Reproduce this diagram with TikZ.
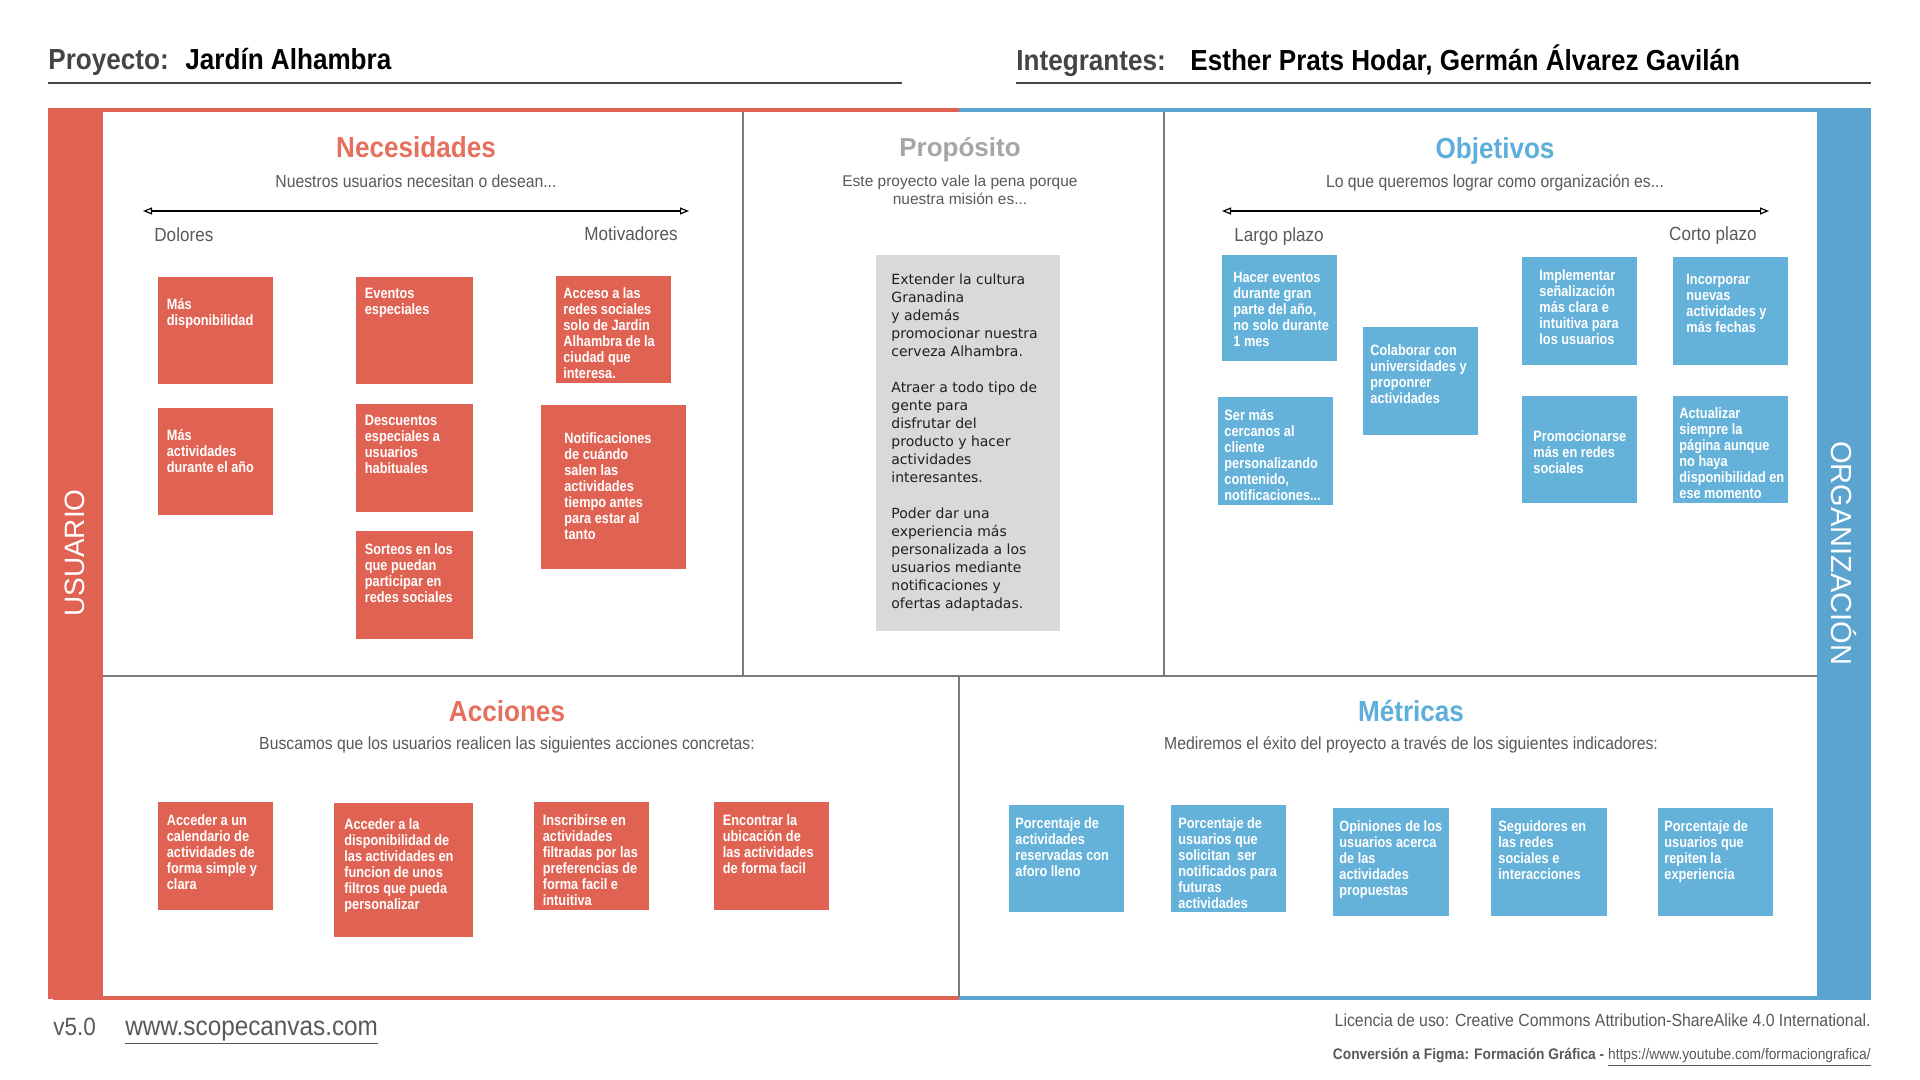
\documentclass[tikz,border=0pt]{standalone}
\usepackage{fontspec}
\setmainfont{Liberation Sans}
\newfontfamily\condf[FakeStretch=0.85]{Liberation Sans}
\newfontfamily\headf[FakeStretch=0.9]{Liberation Sans}
\newfontfamily\propf{DejaVu Sans}
\usetikzlibrary{arrows.meta}
\definecolor{redbox}{HTML}{E06252}
\definecolor{bluebox}{HTML}{64B1D9}
\definecolor{bluebar}{HTML}{5CA4D0}
\definecolor{redtitle}{HTML}{E5705E}
\definecolor{bluetitle}{HTML}{5DAEDA}
\definecolor{divgray}{HTML}{7A7A7A}
\definecolor{subgray}{HTML}{595959}
\definecolor{propgray}{HTML}{A6A6A6}
\definecolor{propbox}{HTML}{D9D9D9}
\definecolor{headgray}{HTML}{444444}
\tikzset{
  snote/.style={draw=none, anchor=north west, inner sep=0pt, outer sep=0pt},
  stext/.style={anchor=north west, inner sep=0pt, align=left, text=white,
    font=\condf\bfseries\fontsize{7.5}{8}\selectfont},
  divider/.style={draw=divgray, line width=1pt},
  sectitle/.style={inner sep=0pt, anchor=base, font=\headf\bfseries\fontsize{14.5}{17}\selectfont},
  secsub/.style={inner sep=0pt, anchor=base, text=subgray, font=\headf\fontsize{8.75}{10}\selectfont},
  axislabel/.style={inner sep=0pt, text=subgray, font=\headf\fontsize{9.5}{11}\selectfont},
  scalearrow/.style={draw=black, line width=0.6pt,
    {Triangle[open,length=4.5pt,width=3.5pt]}-{Triangle[open,length=4.5pt,width=3.5pt]}},
  hdr/.style={inner sep=0pt, anchor=base west, font=\headf\bfseries\fontsize{14.5}{17}\selectfont},
  hline/.style={draw=headgray, line width=0.75pt},
}
\newcommand{\snote}[9]{%
  \node[snote, fill=#2, minimum width={#5*0.5pt}, minimum height={#6*0.5pt}] (#1) at (#3,#4) {};
  \node[stext] (#1-t) at (#3+#7,#4+#8) {#9};}
\begin{document}
\begin{tikzpicture}[x=0.5pt,y=-0.5pt]
\useasboundingbox (0,0) rectangle (1920,1080);
\fill[white] (0,0) rectangle (1920,1080);

% ---------- header ----------
\node[hdr, text=headgray] (proy) at (48,70) {Proyecto:};
\node[hdr, text=black] (proyname) at (185,70) {Jardín Alhambra};
\coordinate (pl1) at (48,83); \coordinate (pl2) at (902,83);
\draw[hline] (pl1) -- (pl2);
\node[hdr, text=headgray] (integ) at (1016,71) {Integrantes:};
\node[hdr, text=black] (integnames) at (1190,71) {Esther Prats Hodar, Germán Álvarez Gavilán};
\coordinate (il1) at (1016,83); \coordinate (il2) at (1871,83);
\draw[hline] (il1) -- (il2);

% ---------- frame ----------
\fill[redbox] (48,108) rectangle (103,999);
\fill[bluebar] (1817,110) rectangle (1871,999);
\coordinate (tl) at (53,110); \coordinate (tm) at (959,110); \coordinate (tr) at (1871,110);
\coordinate (bl) at (53,998); \coordinate (bm) at (959,998); \coordinate (br) at (1871,998);
\draw[redbox, line width=2pt] (tl) -- (tm);
\draw[bluebar, line width=2pt] (tm) -- (tr);
\draw[redbox, line width=2pt] (bl) -- (bm);
\draw[bluebar, line width=2pt] (bm) -- (br);

\coordinate (d1a) at (743,112); \coordinate (d1b) at (743,676);
\coordinate (d2a) at (1164,112); \coordinate (d2b) at (1164,676);
\coordinate (d3a) at (103,676); \coordinate (d3b) at (1817,676);
\coordinate (d4a) at (959,676); \coordinate (d4b) at (959,997);
\draw[divider] (d1a) -- (d1b);
\draw[divider] (d2a) -- (d2b);
\draw[divider] (d3a) -- (d3b);
\draw[divider] (d4a) -- (d4b);

\node[rotate=90, text=white, inner sep=0pt, font=\fontsize{14}{16}\selectfont] (usuario) at (75,553) {USUARIO};
\node[rotate=-90, text=white, inner sep=0pt, font=\fontsize{14.5}{16}\selectfont] (organiz) at (1844,553) {ORGANIZACIÓN};

% ---------- Necesidades ----------
\node[sectitle, text=redtitle] (nectitle) at (416,158) {Necesidades};
\node[secsub] (necsub) at (416,188) {Nuestros usuarios necesitan o desean...};
\coordinate (na1) at (143,211); \coordinate (na2) at (689,211);
\draw[scalearrow] (na1) -- (na2);
\node[axislabel, anchor=base west] (dolores) at (154,242) {Dolores};
\node[axislabel, anchor=base east] (motiv) at (678,241) {Motivadores};

\snote{n1}{redbox}{158}{277}{115}{107}{8.5}{21}{Más\\disponibilidad}
\snote{n2}{redbox}{356}{277}{117}{107}{8.5}{11}{Eventos\\especiales}
\snote{n3}{redbox}{556}{276}{115}{107}{7}{11}{Acceso a las\\redes sociales\\solo de Jardin\\Alhambra de la\\ciudad que\\interesa.}
\snote{n4}{redbox}{158}{408}{115}{107}{8.5}{21}{Más\\actividades\\durante el año}
\snote{n5}{redbox}{356}{404}{117}{108}{8.5}{11}{Descuentos\\especiales a\\usuarios\\habituales}
\snote{n6}{redbox}{541}{405}{145}{164}{23}{27}{Notificaciones\\de cuándo\\salen las\\actividades\\tiempo antes\\para estar al\\tanto}
\snote{n7}{redbox}{356}{531}{117}{108}{8.5}{12}{Sorteos en los\\que puedan\\participar en\\redes sociales}

% ---------- Propósito ----------
\node[inner sep=0pt, anchor=base, text=propgray, font=\bfseries\fontsize{13}{15}\selectfont] (proptitle) at (960,157) {Propósito};
\node[inner sep=0pt, align=center, text=subgray, font=\fontsize{7.75}{9}\selectfont] (propsub) at (960,190) {Este proyecto vale la pena porque\\nuestra misión es...};
\node[snote, fill=propbox, minimum width={184*0.5pt}, minimum height={376*0.5pt}] (propbox) at (876,255) {};
\node[anchor=north west, inner sep=0pt, align=left, text=black!88, font=\propf\fontsize{7}{9}\selectfont] (proptext) at (891,273)
{Extender la cultura\\Granadina\\y además\\promocionar nuestra\\cerveza Alhambra.\\[9pt]Atraer a todo tipo de\\gente para\\disfrutar del\\producto y hacer\\actividades\\interesantes.\\[9pt]Poder dar una\\experiencia más\\personalizada a los\\usuarios mediante\\notificaciones y\\ofertas adaptadas.};

% ---------- Objetivos ----------
\node[sectitle, text=bluetitle] (objtitle) at (1495,159) {Objetivos};
\node[secsub] (objsub) at (1495,188) {Lo que queremos lograr como organización es...};
\coordinate (oa1) at (1222,211); \coordinate (oa2) at (1769,211);
\draw[scalearrow] (oa1) -- (oa2);
\node[axislabel, anchor=base west] (largo) at (1234,242) {Largo plazo};
\node[axislabel, anchor=base east] (corto) at (1757,241) {Corto plazo};

\snote{o1}{bluebox}{1222}{255}{115}{106}{11}{17}{Hacer eventos\\durante gran\\parte del año,\\no solo durante\\1 mes}
\snote{o2}{bluebox}{1363}{327}{115}{108}{7}{17}{Colaborar con\\universidades y\\proponrer\\actividades}
\snote{o3}{bluebox}{1522}{257}{115}{108}{17}{12}{Implementar\\señalización\\más clara e\\intuitiva para\\los usuarios}
\snote{o4}{bluebox}{1673}{257}{115}{108}{13}{17}{Incorporar\\nuevas\\actividades y\\más fechas}
\snote{o5}{bluebox}{1218}{397}{115}{108}{6}{12}{Ser más\\cercanos al\\cliente\\personalizando\\contenido,\\notificaciones...}
\snote{o6}{bluebox}{1522}{396}{115}{107}{11}{34}{Promocionarse\\más en redes\\sociales}
\snote{o7}{bluebox}{1673}{396}{115}{107}{6}{11}{Actualizar\\siempre la\\página aunque\\no haya\\disponibilidad en\\ese momento}

% ---------- Acciones ----------
\node[sectitle, text=redtitle] (acctitle) at (507,721) {Acciones};
\node[secsub] (accsub) at (507,749) {Buscamos que los usuarios realicen las siguientes acciones concretas:};
\snote{a1}{redbox}{158}{802}{115}{108}{8.5}{12}{Acceder a un\\calendario de\\actividades de\\forma simple y\\clara}
\snote{a2}{redbox}{334}{803}{139}{134}{10}{15}{Acceder a la\\disponibilidad de\\las actividades en\\funcion de unos\\filtros que pueda\\personalizar}
\snote{a3}{redbox}{534}{802}{115}{108}{8.5}{12}{Inscribirse en\\actividades\\filtradas por las\\preferencias de\\forma facil e\\intuitiva}
\snote{a4}{redbox}{714}{802}{115}{108}{8.5}{12}{Encontrar la\\ubicación de\\las actividades\\de forma facil}

% ---------- Métricas ----------
\node[sectitle, text=bluetitle] (mettitle) at (1411,721) {Métricas};
\node[secsub] (metsub) at (1411,749) {Mediremos el éxito del proyecto a través de los siguientes indicadores:};
\snote{m1}{bluebox}{1009}{805}{115}{107}{6}{12}{Porcentaje de\\actividades\\reservadas con\\aforo lleno}
\snote{m2}{bluebox}{1171}{805}{115}{107}{7}{12}{Porcentaje de\\usuarios que\\solicitan\ \ ser\\notificados para\\futuras\\actividades}
\snote{m3}{bluebox}{1333}{808}{116}{108}{6}{12}{Opiniones de los\\usuarios acerca\\de las\\actividades\\propuestas}
\snote{m4}{bluebox}{1491}{808}{116}{108}{7}{12}{Seguidores en\\las redes\\sociales e\\interacciones}
\snote{m5}{bluebox}{1658}{808}{115}{108}{6}{12}{Porcentaje de\\usuarios que\\repiten la\\experiencia}

% ---------- footer ----------
\node[inner sep=0pt, anchor=base west, text=subgray, font=\headf\fontsize{12.5}{14}\selectfont] (ver) at (53,1035) {v5.0};
\node[inner sep=0pt, anchor=base west, text=subgray, font=\headf\fontsize{13.5}{15}\selectfont] (url) at (125,1035) {\underline{www.scopecanvas.com}};
\node[inner sep=0pt, anchor=base east, text=subgray, font=\headf\fontsize{8.8}{10}\selectfont] (lic) at (1871,1026) {Licencia de uso: Creative Commons Attribution-ShareAlike 4.0 International.};
\node[inner sep=0pt, anchor=base east, text=subgray, font=\headf\fontsize{7.65}{9}\selectfont] (conv) at (1871,1059) {\textbf{Conversión a Figma: Formación Gráfica -} \underline{https://www.youtube.com/formaciongrafica/}};
\end{tikzpicture}
\end{document}
